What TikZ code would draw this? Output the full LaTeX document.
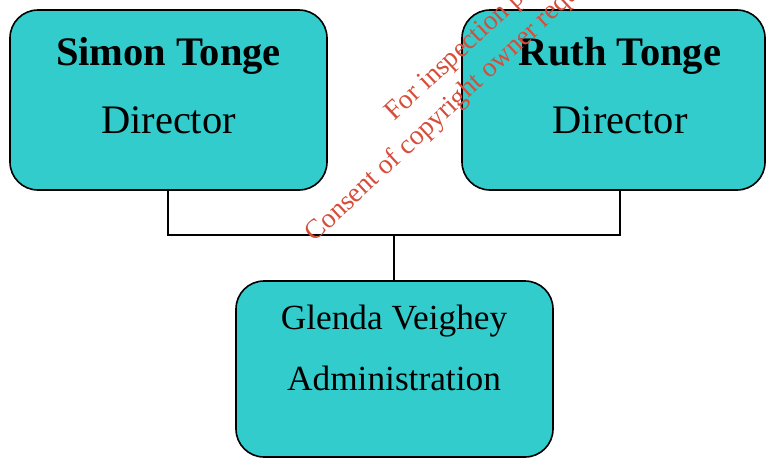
\documentclass[tikz,border=0pt]{standalone}
\usepackage{fontspec}
\setmainfont{Liberation Serif}
\definecolor{boxfill}{RGB}{51,204,204}
\definecolor{wmred}{RGB}{214,78,58}
\begin{document}
\begin{tikzpicture}[x=1pt,y=-1pt,
  box/.style={draw=black,line width=1.6pt,fill=boxfill,rounded corners=28pt},
  link/.style={draw=black,line width=1.4pt},
  bigtxt/.style={anchor=base,inner sep=0pt,font=\fontsize{40.5}{48}\selectfont},
  midtxt/.style={anchor=base,inner sep=0pt,font=\fontsize{35.3}{42}\selectfont},
  wm/.style={text=wmred,align=center,inner sep=0pt,rotate=43,font=\fontsize{27.5}{34}\selectfont}]
\useasboundingbox (0,0) rectangle (767,458);
\clip (0,0) rectangle (767,458);
% boxes
\path[box] (10,10) rectangle (327,190);
\path[box] (462,10) rectangle (765,190);
\path[box] (236,281) rectangle (553,457);
\coordinate (sb) at (168,190);
\coordinate (rb) at (620,190);
\coordinate (gt) at (394,281);
\coordinate (jl) at (168,235);
\coordinate (jr) at (620,235);
\coordinate (jm) at (394,235);
% texts
\node[bigtxt] (s1) at (168.5,65) {\bfseries Simon Tonge};
\node[bigtxt] (s2) at (168.5,133.5) {Director};
\node[bigtxt] (r1) at (620,65) {\bfseries Ruth Tonge};
\node[bigtxt] (r2) at (620,133.5) {Director};
\node[midtxt] (g1) at (394,329) {Glenda Veighey};
\node[midtxt] (g2) at (394,390.5) {Administration};
% connectors
\draw[link] (sb) -- (jl) -- (jr) -- (rb);
\draw[link] (jm) -- (gt);
% watermark
\node[wm] (wmk) at (520,19) {For inspection purposes only.\\Consent of copyright owner required for any other use.};
\end{tikzpicture}
\end{document}
